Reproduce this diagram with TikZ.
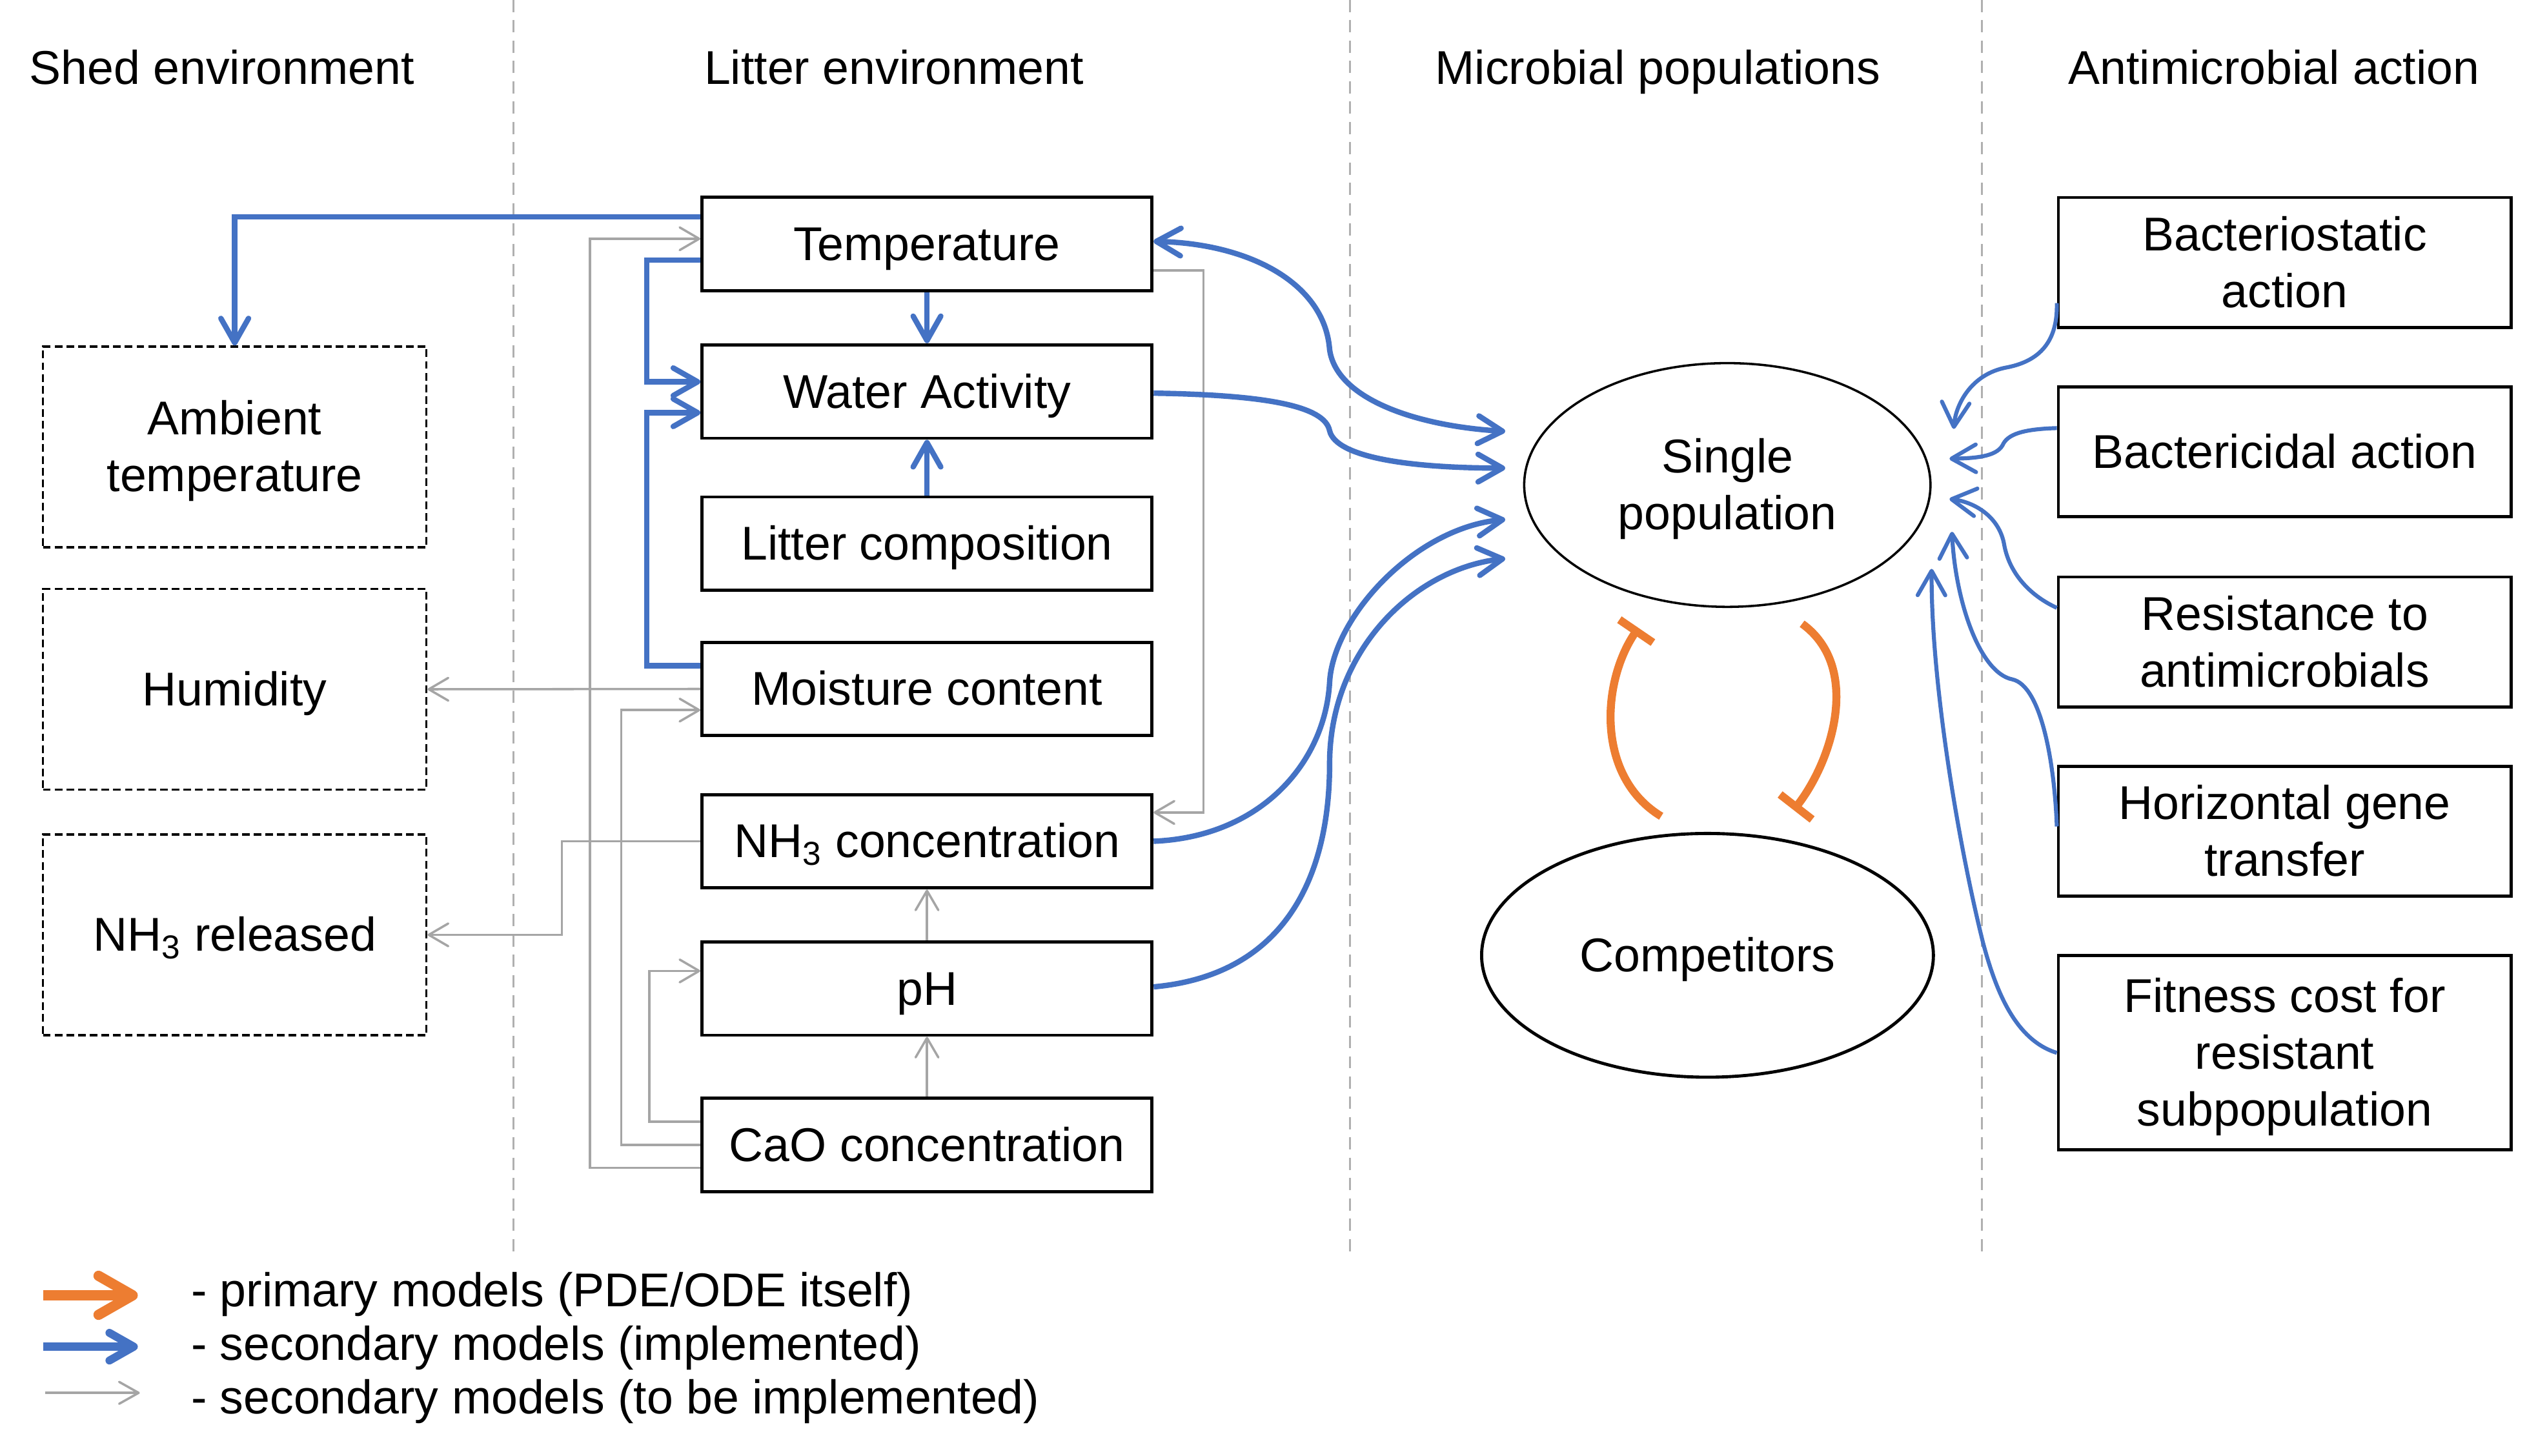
\documentclass[tikz,border=0pt]{standalone}
\usepackage{fontspec}
\setmainfont{Liberation Sans}
\usetikzlibrary{arrows.meta, calc, shapes.geometric}

\definecolor{blueline}{HTML}{4472C4}
\definecolor{orangeline}{HTML}{ED7D31}
\definecolor{greyline}{HTML}{A5A5A5}
\definecolor{sepgrey}{HTML}{B0B0B0}

\newcommand{\lstrut}{\vrule height 15pt depth 3.5pt width 0pt\relax}

\begin{document}
\begin{tikzpicture}
[x=0.02cm, y=-0.02cm,
  every node/.style={font=\fontsize{16.6}{19.9}\selectfont, align=center,
    execute at begin node=\lstrut, execute at end node=\lstrut},
  header/.style={anchor=base, inner sep=0pt},
  litterbox/.style={draw, line width=1.1pt, minimum width=5.54cm, minimum height=1.15cm, inner sep=0pt},
  shedbox/.style={draw, line width=0.8pt, dash pattern=on 2.7pt off 1.4pt,
    minimum width=4.72cm, minimum height=2.47cm, inner sep=0pt},
  agentbox/.style={draw, line width=1.1pt, minimum width=5.57cm, minimum height=1.6cm, inner sep=0pt},
  pop/.style={ellipse, draw, inner sep=0pt, minimum height=3cm},
  legtext/.style={anchor=base west, inner sep=0pt},
  bluebarb/.tip={Straight Barb[length=0.3cm, width=0.34cm, round]},
  greybarb/.tip={Straight Barb[length=0.24cm, width=0.28cm, round]},
  impl/.style={draw=blueline, line width=1.9pt, -bluebarb},
  implthin/.style={draw=blueline, line width=1.4pt, -bluebarb},
  todo/.style={draw=greyline, line width=0.8pt, -greybarb},
  primary/.style={draw=orangeline, line width=2.8pt, -{Bar[width=0.5cm]}},
  divider/.style={draw=sepgrey, line width=0.7pt, dash pattern=on 0.15cm off 0.1cm}]

\useasboundingbox (0,0) rectangle (1567,895.5);

\draw[divider] (316,0) -- (316,773);
\draw[divider] (830.6,0) -- (830.6,773);
\draw[divider] (1219.2,0) -- (1219.2,773);

\node[header] (hshed) at (136.5,52) {Shed environment};
\node[header] (hlitter) at (550,52) {Litter environment};
\node[header] (hmicro) at (1020,52) {Microbial populations};
\node[header] (hanti) at (1399,52) {Antimicrobial action};

\node[shedbox] (amb) at (144.4,275) {\lstrut Ambient\\temperature};
\node[shedbox] (hum) at (144.4,424.1) {Humidity};
\node[shedbox] (nh3rel) at (144.4,575.2) {NH\textsubscript{3} released};

\node[litterbox] (temp) at (570.3,150) {Temperature};
\node[litterbox] (water) at (570.3,240.9) {Water Activity};
\node[litterbox] (lcomp) at (570.3,334.5) {Litter composition};
\node[litterbox] (moist) at (570.3,423.9) {Moisture content};
\node[litterbox] (nh3) at (570.3,517.6) {NH\textsubscript{3} concentration};
\node[litterbox] (ph) at (570.3,608.2) {pH};
\node[litterbox] (cao) at (570.3,704.5) {CaO concentration};

\node[pop, line width=0.8pt, minimum width=5cm] (single) at (1062.7,298.4) {\lstrut Single\\population};
\node[pop, line width=1.1pt, minimum width=5.56cm] (comp) at (1050.5,587.8) {Competitors};

\node[agentbox] (stat) at (1405.6,161.5) {\lstrut Bacteriostatic\\action};
\node[agentbox] (bact) at (1405.6,277.9) {Bactericidal action};
\node[agentbox] (resist) at (1405.6,395) {\lstrut Resistance to\\antimicrobials};
\node[agentbox] (hgt) at (1405.6,511.5) {\lstrut Horizontal gene\\transfer};
\node[agentbox, minimum height=2.39cm] (fit) at (1405.6,647.8) {\lstrut Fitness cost for\\resistant\\subpopulation};

\draw[todo] ($(temp.east)+(0,16.4)$) -- ++(30.7,0) |- ($(nh3.east)+(0,-17.7)$);
\draw[todo] (moist.west) -- (hum.east);
\draw[todo] (nh3.west) -- ++(-85.2,0) |- (nh3rel.east);
\draw[todo] (ph.north) -- (nh3.south);
\draw[todo] (cao.north) -- (ph.south);
\draw[todo] ($(cao.west)+(0,-14.3)$) -- ++(-31.3,0) |- ($(ph.west)+(0,-10.8)$);
\draw[todo] (cao.west) -- ++(-48.7,0) |- ($(moist.west)+(0,13)$);
\draw[todo] ($(cao.west)+(0,14.1)$) -- ++(-67.9,0) |- ($(temp.west)+(0,-3.1)$);

\draw[impl] ($(temp.west)+(0,-16.5)$) -| (amb.north);
\draw[impl] ($(temp.west)+(0,10)$) -- ++(-33,0) |- ($(water.west)+(0,-6)$);
\draw[impl] ($(moist.west)+(0,-14.3)$) -- ++(-33,0) |- ($(water.west)+(0,13)$);
\draw[impl] (temp.south) -- (water.north);
\draw[impl] (lcomp.north) -- (water.south);

\draw[impl, bluebarb-bluebarb] ($(temp.east)+(0,-1.5)$) .. controls (770,150) and (815,175) .. (818,215)
  .. controls (822,245) and (870,262) .. ($(single.west)+(-11,-33)$);
\draw[impl] ($(water.east)+(0,1)$) .. controls (780,243) and (815,250) .. (818,265)
  .. controls (822,282) and (870,288) .. ($(single.west)+(-11,-10.4)$);
\draw[impl] (nh3.east) .. controls (775,515) and (815,470) .. (818,420)
  .. controls (820,380) and (870,325) .. ($(single.west)+(-11,21.2)$);
\draw[impl] ($(ph.east)+(0,-1)$) .. controls (790,600) and (818,540) .. (818,470)
  .. controls (818,400) and (870,350) .. ($(single.west)+(-11,45.3)$);

\draw[implthin] ($(stat.west)+(0,25)$) .. controls (1266,210) and (1255,222) .. (1235,226)
  .. controls (1212,230) and (1203,250) .. ($(single.east)+(13.6,-34.5)$);
\draw[implthin] ($(bact.west)+(0,-14.5)$) .. controls (1245,264) and (1235,267) .. (1232,274)
  .. controls (1228,281) and (1215,282) .. ($(single.east)+(11,-16.2)$);
\draw[implthin] ($(resist.west)+(0,-21)$) .. controls (1248,366) and (1236,352) .. (1233,335)
  .. controls (1230,318) and (1215,309) .. ($(single.east)+(11,8.6)$);
\draw[implthin] ($(hgt.west)+(0,-3)$) .. controls (1264,470) and (1256,422) .. (1238,418)
  .. controls (1218,414) and (1203,370) .. ($(single.east)+(12.5,28.8)$);
\draw[implthin] (fit.west) .. controls (1240,640) and (1228,610) .. (1220,580)
  .. controls (1205,520) and (1188,420) .. ($(single.east)+(0,51.6)$);

\draw[primary] ($(comp.north)+(-28.5,-9.6)$) .. controls (982,478) and (985,420) .. ($(single.south)+(-54.7,12.2)$);
\draw[primary] ($(single.south)+(46,9.7)$) .. controls (1145,410) and (1128,467) .. ($(comp.north)+(53,-13.4)$);

\coordinate (lo1) at (26.7,797);
\coordinate (lo2) at (84.8,797);
\coordinate (lb1) at (26.7,828.6);
\coordinate (lb2) at (84.8,828.6);
\coordinate (lg1) at (27.9,857);
\coordinate (lg2) at (86,857);
\draw[draw=orangeline, line width=3.6pt, -{Straight Barb[length=0.42cm, width=0.48cm, round]}] (lo1) -- (lo2);
\draw[draw=blueline, line width=2.8pt, -{Straight Barb[length=0.3cm, width=0.34cm, round]}] (lb1) -- (lb2);
\draw[draw=greyline, line width=0.8pt, -{Straight Barb[length=0.24cm, width=0.27cm, round]}] (lg1) -- (lg2);

\node[legtext] (leg1) at (117.2,803.9) {- primary models (PDE/ODE itself)};
\node[legtext] (leg2) at (117.2,836.8) {- secondary models (implemented)};
\node[legtext] (leg3) at (117.2,870) {- secondary models (to be implemented)};

\end{tikzpicture}
\end{document}
